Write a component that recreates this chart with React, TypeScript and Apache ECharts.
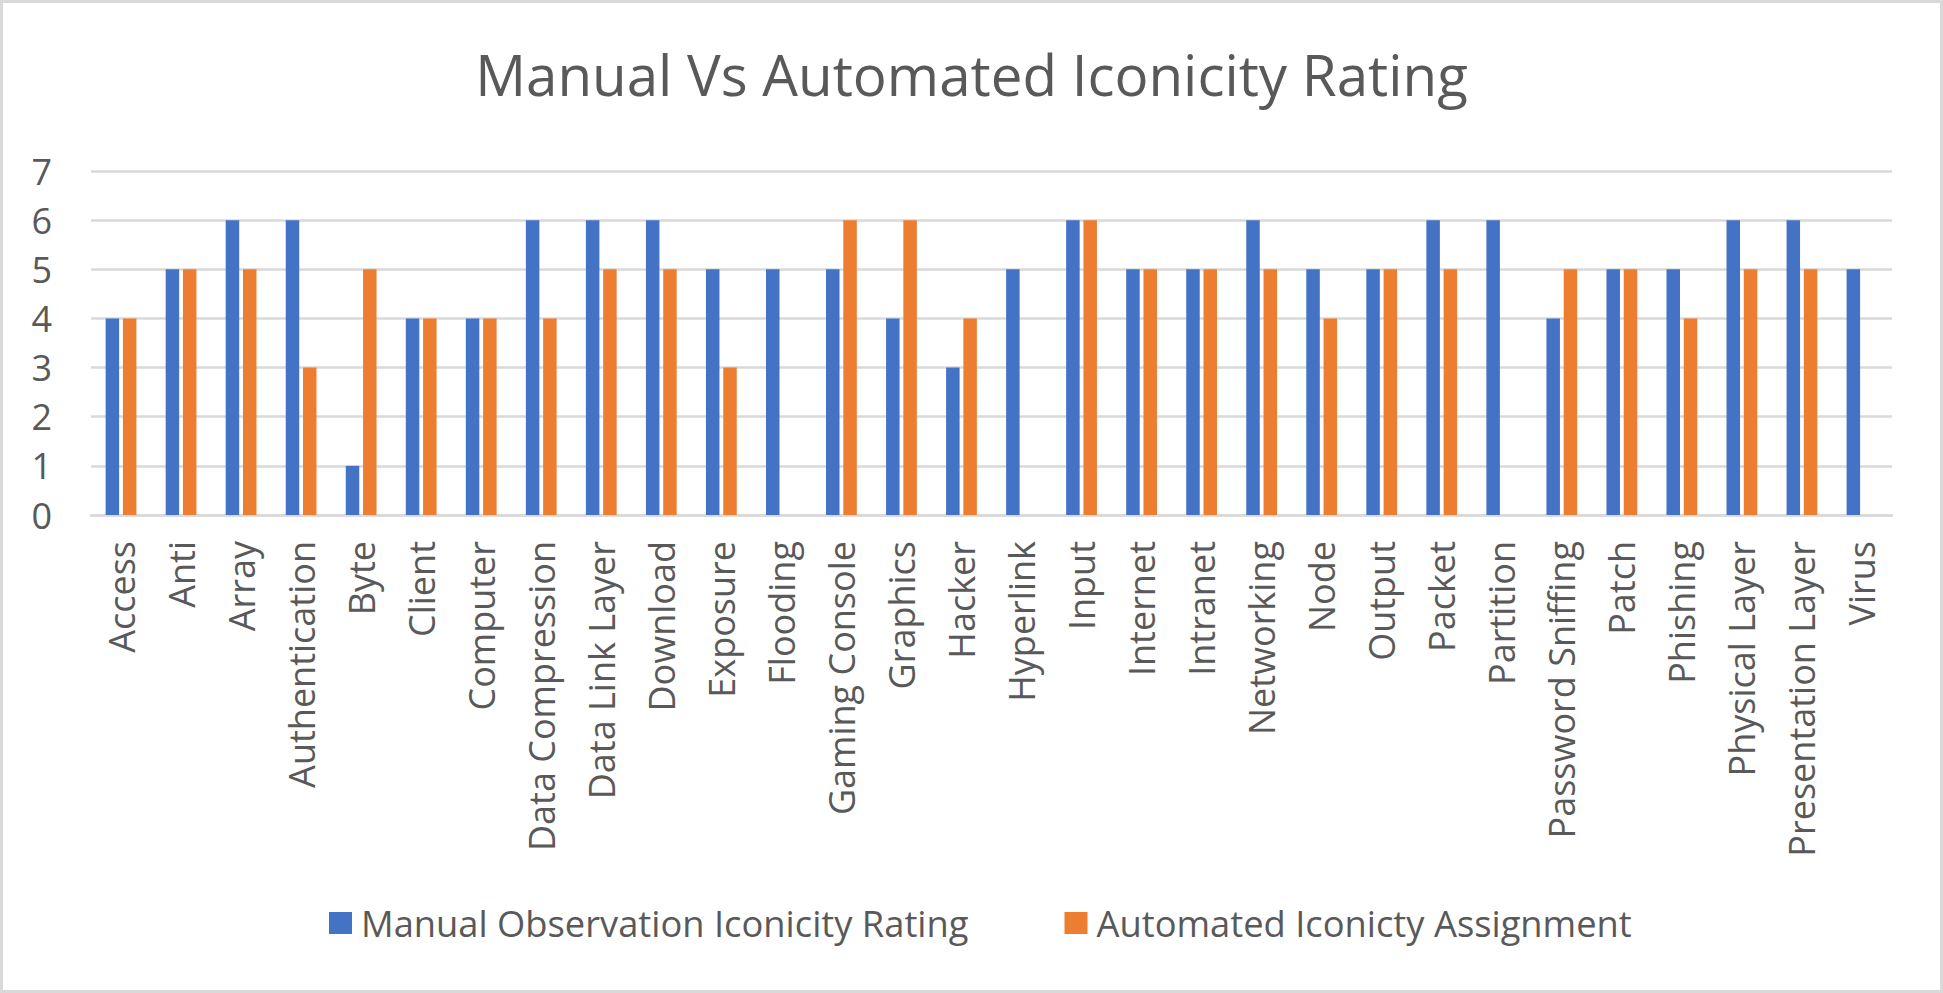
import { useEffect, useRef } from 'react';
import * as echarts from 'echarts';

const categories = [
  'Access', 'Anti', 'Array', 'Authentication', 'Byte', 'Client', 'Computer', 'Data Compression',
  'Data Link Layer', 'Download', 'Exposure', 'Flooding', 'Gaming Console', 'Graphics', 'Hacker',
  'Hyperlink', 'Input', 'Internet', 'Intranet', 'Networking', 'Node', 'Output', 'Packet', 'Partition',
  'Password Sniffing', 'Patch', 'Phishing', 'Physical Layer', 'Presentation Layer', 'Virus',
];
const manualRating = [4, 5, 6, 6, 1, 4, 4, 6, 6, 6, 5, 5, 5, 4, 3, 5, 6, 5, 5, 6, 5, 5, 6, 6, 4, 5, 5, 6, 6, 5];
const automatedRating = [4, 5, 5, 3, 5, 4, 4, 4, 5, 5, 3, null, 6, 6, 4, null, 6, 5, 5, 5, 4, 5, 5, null, 5, 5, 4, 5, 5, null];

const FONT = '"Open Sans", "Noto Sans", sans-serif';
const TEXT = '#595959';
const GRID = '#d9d9d9';

export default function App() {
  const ref = useRef<HTMLDivElement>(null);

  useEffect(() => {
    document.body.style.margin = '0';
    if (!ref.current) return;
    const chart = echarts.init(ref.current, undefined, { renderer: 'svg' });
    chart.setOption({
      animation: false,
      backgroundColor: '#fff',
      textStyle: { fontFamily: FONT },
      title: {
        text: 'Manual Vs Automated Iconicity Rating',
        left: 'center',
        top: 38,
        textStyle: { color: TEXT, fontSize: 56.5, fontWeight: 'normal', fontFamily: FONT },
      },
      legend: {
        left: 321,
        top: 897,
        itemWidth: 23,
        itemHeight: 22,
        itemGap: 96,
        icon: 'rect',
        textStyle: { color: TEXT, fontSize: 36.3, fontFamily: FONT, padding: [0, 0, 0, 4] },
        data: ['Manual Observation Iconicity Rating', 'Automated Iconicty Assignment'],
      },
      grid: { left: 88, right: 48, top: 168, bottom: 475, containLabel: false },
      xAxis: {
        type: 'category',
        data: categories,
        axisTick: { show: false },
        axisLine: { lineStyle: { color: GRID, width: 2.5 } },
        axisLabel: {
          color: TEXT,
          fontSize: 36,
          fontFamily: FONT,
          rotate: 90,
          interval: 0,
          margin: 26,
        },
      },
      yAxis: {
        type: 'value',
        min: 0,
        max: 7,
        interval: 1,
        axisLine: { show: false },
        axisTick: { show: false },
        splitLine: { lineStyle: { color: GRID, width: 2.5 } },
        axisLabel: { color: TEXT, fontSize: 36, fontFamily: FONT, margin: 39 },
      },
      series: [
        {
          name: 'Manual Observation Iconicity Rating',
          type: 'bar',
          data: manualRating,
          barWidth: 13.5,
          barGap: '28%',
          itemStyle: { color: '#4472c4' },
        },
        {
          name: 'Automated Iconicty Assignment',
          type: 'bar',
          data: automatedRating,
          barWidth: 13.5,
          itemStyle: { color: '#ed7d31' },
        },
      ],
    });
    return () => chart.dispose();
  }, []);

  return (
    <div
      ref={ref}
      style={{ width: 1943, height: 993, boxSizing: 'border-box', border: '3px solid #d9d9d9' }}
    />
  );
}
